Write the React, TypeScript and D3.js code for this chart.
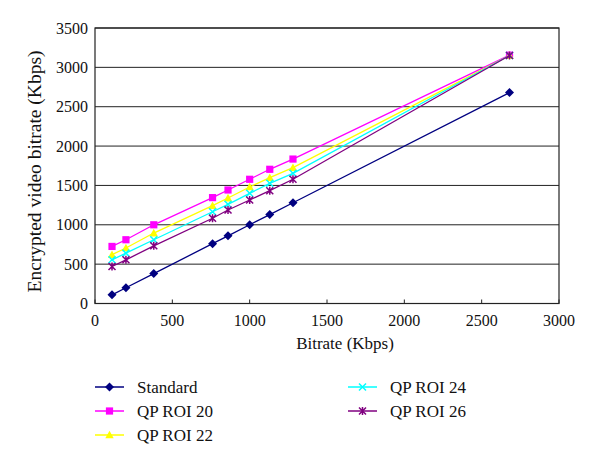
import React from "react";
import * as d3 from "d3";

const bitrates = [110, 200, 380, 760, 860, 1000, 1130, 1280, 2680];
const standard = [110, 200, 380, 760, 860, 1000, 1130, 1280, 2680];
const roi20 = [725, 810, 1000, 1345, 1442, 1578, 1705, 1835, 3155];
const roi22 = [620, 705, 895, 1243, 1340, 1480, 1598, 1726, 3150];
const roi24 = [555, 640, 810, 1166, 1260, 1400, 1527, 1654, 3150];
const roi26 = [470, 555, 733, 1083, 1188, 1315, 1433, 1578, 3150];
const xTicks = [0, 500, 1000, 1500, 2000, 2500, 3000];
const yTicks = [0, 500, 1000, 1500, 2000, 2500, 3000, 3500];

const seriesNames = ["Standard", "QP ROI 20", "QP ROI 22", "QP ROI 24", "QP ROI 26"];
const seriesValues = [standard, roi20, roi22, roi24, roi26];
const seriesColors = ["#000080", "#FF00FF", "#FFFF00", "#00FFFF", "#800080"];
const seriesMarkers = ["diamond", "square", "triangle", "x", "star"];

const FONT = '"Liberation Serif", "Times New Roman", Times, "DejaVu Serif", serif';

function Marker({ type, x, y, color }: { type: string; x: number; y: number; color: string }) {
  if (type === "diamond") {
    const s = 4.5;
    return <path d={`M${x},${y - s}L${x + s},${y}L${x},${y + s}L${x - s},${y}Z`} fill={color} />;
  }
  if (type === "square") {
    const s = 3.6;
    return <rect x={x - s} y={y - s} width={2 * s} height={2 * s} fill={color} />;
  }
  if (type === "triangle") {
    const s = 4.2;
    return <path d={`M${x},${y - s}L${x + s},${y + s * 0.8}L${x - s},${y + s * 0.8}Z`} fill={color} />;
  }
  if (type === "x") {
    const s = 3.5;
    return (
      <path d={`M${x - s},${y - s}L${x + s},${y + s}M${x - s},${y + s}L${x + s},${y - s}`} stroke={color} strokeWidth={1.5} fill="none" />
    );
  }
  const s = 3.5;
  return (
    <path
      d={`M${x - s},${y - s}L${x + s},${y + s}M${x - s},${y + s}L${x + s},${y - s}M${x},${y - s - 0.5}L${x},${y + s + 0.5}`}
      stroke={color}
      strokeWidth={1.5}
      fill="none"
    />
  );
}

export default function App() {
  const left = 95;
  const right = 559;
  const top = 28;
  const bottom = 303.5;
  const x = d3.scaleLinear().domain([0, 3000]).range([left, right]);
  const y = d3.scaleLinear().domain([0, 3500]).range([bottom, top]);
  const line = d3
    .line<[number, number]>()
    .x((d) => x(d[0]))
    .y((d) => y(d[1]));

  const legendPos = [
    { lx: 95, ly: 387 },
    { lx: 95, ly: 411 },
    { lx: 95, ly: 435 },
    { lx: 348, ly: 387 },
    { lx: 348, ly: 411 },
  ];

  const textStyle = { fontFamily: FONT };

  return (
    <svg width={600} height={466} style={{ position: "absolute", left: 0, top: 0, background: "#fff" }}>
      <rect x={0} y={0} width={600} height={466} fill="#fff" />
      <g style={textStyle}>
        {yTicks.map((t) => (
          <g key={"y" + t}>
            <line x1={left} x2={right} y1={y(t)} y2={y(t)} stroke="#222" strokeWidth={1} />
            <text x={88} y={y(t)} dy="0.35em" textAnchor="end" fontSize={16} fill="#111">
              {t}
            </text>
          </g>
        ))}
        {xTicks.map((t) => (
          <g key={"x" + t}>
            <line x1={x(t)} x2={x(t)} y1={bottom} y2={bottom - 4} stroke="#222" strokeWidth={1} />
            <text x={x(t)} y={326} textAnchor="middle" fontSize={16} fill="#111">
              {t}
            </text>
          </g>
        ))}
        <rect x={left} y={top} width={right - left} height={bottom - top} fill="none" stroke="#222" strokeWidth={1.2} />
        {seriesValues.map((vals, i) => {
          const pts: [number, number][] = bitrates.map((b, j) => [b, vals[j]]);
          return (
            <g key={seriesNames[i]}>
              <path d={line(pts) || ""} fill="none" stroke={seriesColors[i]} strokeWidth={1.3} />
              {pts.map((p, j) => (
                <Marker key={j} type={seriesMarkers[i]} x={x(p[0])} y={y(p[1])} color={seriesColors[i]} />
              ))}
            </g>
          );
        })}
        <text x={345} y={349} textAnchor="middle" fontSize={17} fill="#111">
          Bitrate (Kbps)
        </text>
        <text transform="translate(41,171.5) rotate(-90)" textAnchor="middle" fontSize={19.5} fill="#111">
          Encrypted video bitrate (Kbps)
        </text>
        {seriesNames.map((name, i) => {
          const { lx, ly } = legendPos[i];
          return (
            <g key={"lg" + name}>
              <line x1={lx} x2={lx + 29} y1={ly} y2={ly} stroke={seriesColors[i]} strokeWidth={1.5} />
              <Marker type={seriesMarkers[i]} x={lx + 14.5} y={ly} color={seriesColors[i]} />
              <text x={lx + 42} y={ly} dy="0.35em" fontSize={17} fill="#111">
                {name}
              </text>
            </g>
          );
        })}
      </g>
    </svg>
  );
}
